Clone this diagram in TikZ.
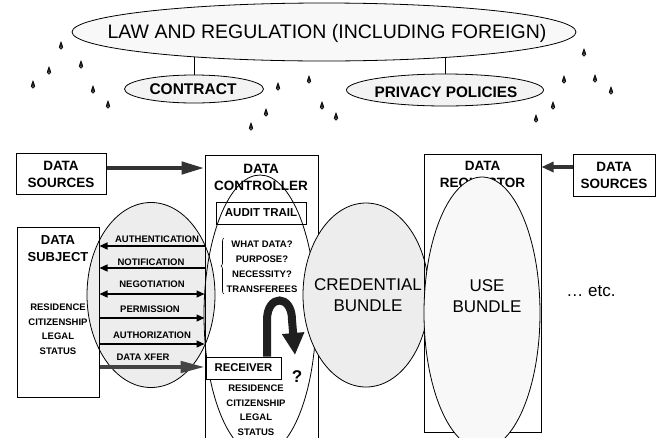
\documentclass[tikz,border=0pt]{standalone}
\usepackage{fontspec}
\setmainfont{Liberation Sans}
\usetikzlibrary{shapes.geometric,arrows.meta,decorations.pathreplacing,backgrounds}
\definecolor{lgrey}{HTML}{EDEDED}
\definecolor{vlgrey}{HTML}{F8F8F8}
\definecolor{ovgrey}{HTML}{F3F3F3}
\definecolor{dgrey}{HTML}{333333}
\definecolor{xgrey}{HTML}{444444}
\tikzset{
  box/.style={draw, line width=1pt, inner sep=0pt},
  oval/.style={ellipse, draw, line width=0.8pt, inner sep=0pt},
  txt/.style={inner sep=0pt, align=center},
  bt/.style={txt, font=\bfseries\fontsize{9.5}{14.5}\selectfont},
  ttl/.style={txt, font=\bfseries\fontsize{13.5}{17}\selectfont},
  big/.style={txt, font=\fontsize{17}{21}\selectfont},
  tarrow/.style={line width=1.2pt, -{Triangle[length=8pt,width=7pt]}},
  tboth/.style={line width=1.2pt, {Triangle[length=8pt,width=7pt]}-{Triangle[length=8pt,width=7pt]}},
  fat/.style={line width=4.5pt, dgrey, -{Triangle[length=23pt,width=12pt]}},
  fatr/.style={line width=4pt, dgrey, -{Triangle[length=12pt,width=10pt]}},
  xfer/.style={line width=4.5pt, xgrey, -{Triangle[length=25pt,width=11pt]}},
  loop/.style={line width=8pt, black!88, -{Triangle[length=22pt,width=21pt]}},
  drop/.pic={\draw[line width=0.6pt, fill=black!85] (0,-5) .. controls (0.4,-3.2) and (1.8,-1.2) .. (1.8,0.4)
      arc[start angle=0, end angle=180, radius=1.8] .. controls (-1.8,-1.2) and (-0.4,-3.2) .. cycle;
      \fill[white!70!black] (0,0.6) circle[radius=0.6];}
}
\begin{document}
\begin{tikzpicture}[x=1pt,y=-1pt]
\useasboundingbox (0,0) rectangle (656,437);
\clip (0,0) rectangle (656,437);

% ---- top: law and regulation
\node[oval, fill=vlgrey, minimum width=504pt, minimum height=58pt] (law) at (324,32) {};
\node[txt, font=\fontsize{19.5}{22}\selectfont] (lawt) at (327,33) {LAW AND REGULATION (INCLUDING FOREIGN)};
\node[oval, fill=ovgrey, minimum width=139pt, minimum height=28pt] (contract) at (194,89) {};
\node[txt, font=\bfseries\fontsize{15.5}{18}\selectfont] (contractt) at (193,89.5) {CONTRACT};
\node[oval, fill=ovgrey, minimum width=197pt, minimum height=32pt] (privacy) at (445,90) {};
\node[txt, font=\bfseries\fontsize{15.3}{18}\selectfont] (privacyt) at (446,92) {PRIVACY POLICIES};
\begin{scope}[on background layer]
  \draw[line width=0.8pt] (contract) -- (contract |- law);
  \draw[line width=0.8pt] (privacy) -- (privacy |- law);
\end{scope}

% ---- rain drops
\foreach \p in {(61,47),(49,72),(81,66),(33,86),(93,91),(108,106),
                (278,88),(309,81),(266,114),(251,128),(322,107),(336,118),
                (584,54),(564,81),(595,80),(611,92),(553,107),(536,120)}
  \pic at \p {drop};

% ---- left oval (data subject - controller)
\node[oval, fill=lgrey, minimum width=128pt, minimum height=185pt] (lov) at (151,295) {};
% ---- controller oval
\node[oval, minimum width=112pt, minimum height=280pt] (cov) at (260,315) {};

% ---- data subject
\node[box, minimum width=82pt, minimum height=170pt] (subj) at (58,312) {};
\node[ttl, font=\bfseries\fontsize{13}{17}\selectfont] (subjt) at (58,249) {DATA\\SUBJECT};
\node[bt] (subjs) at (58,329) {RESIDENCE\\CITIZENSHIP\\LEGAL\\STATUS};

% ---- data controller
\node[box, minimum width=113pt, minimum height=295pt] (ctrl) at (261.5,302.5) {};
\node[ttl] (ctrlt) at (261,177) {DATA\\CONTROLLER};
\node[box, minimum width=90pt, minimum height=22pt, font=\bfseries\fontsize{11.5}{14}\selectfont] (audit) at (261,213) {AUDIT TRAIL};
\node[bt, font=\bfseries\fontsize{9.5}{15}\selectfont] (quest) at (262,267) {WHAT DATA?\\PURPOSE?\\NECESSITY?\\TRANSFEREES};
\coordinate (brtop) at (224,238);
\coordinate (brbot) at (224,294);
\draw[line width=0.6pt, decorate, decoration={brace, amplitude=3pt}] (brbot) -- (brtop);

% ---- arrows between subject and controller
\coordinate (y1) at (0,246);
\coordinate (y2) at (0,268);
\coordinate (y3) at (0,294);
\coordinate (y4) at (0,318);
\coordinate (y5) at (0,344);
\coordinate (y6) at (0,367);
\draw[tarrow] (ctrl.west |- y1) -- (subj.east |- y1);
\draw[tarrow] (ctrl.west |- y2) -- (subj.east |- y2);
\draw[tboth] (subj.east |- y3) -- (ctrl.west |- y3);
\draw[tarrow] (subj.east |- y4) -- (ctrl.west |- y4);
\draw[tarrow] (subj.east |- y5) -- (ctrl.west |- y5);
\node[bt] (l1) at (157,239) {AUTHENTICATION};
\node[bt] (l2) at (151,262) {NOTIFICATION};
\node[bt] (l3) at (152,284) {NEGOTIATION};
\node[bt] (l4) at (150,309) {PERMISSION};
\node[bt] (l5) at (152,335) {AUTHORIZATION};
\node[bt] (l6) at (143,357) {DATA XFER};

% ---- receiver
\node[box, fill=white, minimum width=75pt, minimum height=22pt, font=\bfseries\fontsize{11.3}{14}\selectfont] (recv) at (243.5,368) {RECEIVER};
\draw[xfer] (subj.east |- y6) -- (recv.west |- y6);
\node[bt] (recvs) at (256,410) {RESIDENCE\\CITIZENSHIP\\LEGAL\\STATUS};
\node[txt, font=\bfseries\fontsize{17}{20}\selectfont] (qm) at (297,377) {?};
\coordinate (lp) at (267,0);
\coordinate (ltip) at (295,355);
\draw[loop] (recv.north -| lp) -- (267,320) .. controls (267,294) and (292,294) .. (292,320) -- (ltip);

% ---- credential bundle
\node[oval, fill=lgrey, minimum width=126pt, minimum height=184pt] (cred) at (366,295) {};
\node[big] (credt) at (368,295) {CREDENTIAL\\BUNDLE};

% ---- data requestor
\node[box, minimum width=117pt, minimum height=278pt] (req) at (482.5,293) {};
\node[ttl] (reqt) at (482.5,176) {DATA\\REQUESTOR};
\node[oval, fill=vlgrey, minimum width=116pt, minimum height=272pt] (use) at (482,313) {};
\node[big] (uset) at (487,296) {USE\\BUNDLE};

% ---- data sources
\node[box, minimum width=90pt, minimum height=41pt] (srcl) at (61,173.5) {};
\node[ttl] (srclt) at (61,174) {DATA\\SOURCES};
\node[box, minimum width=82pt, minimum height=42pt] (srcr) at (614,175) {};
\node[ttl] (srcrt) at (614,175) {DATA\\SOURCES};
\coordinate (ya) at (0,168);
\coordinate (yb) at (0,167);
\draw[fat] (srcl.east |- ya) -- (ctrl.west |- ya);
\draw[fatr] (srcr.west |- yb) -- (req.east |- yb);

% ---- etc
\node[big] (etc) at (591,291) {\dots{} etc.};
\end{tikzpicture}
\end{document}
